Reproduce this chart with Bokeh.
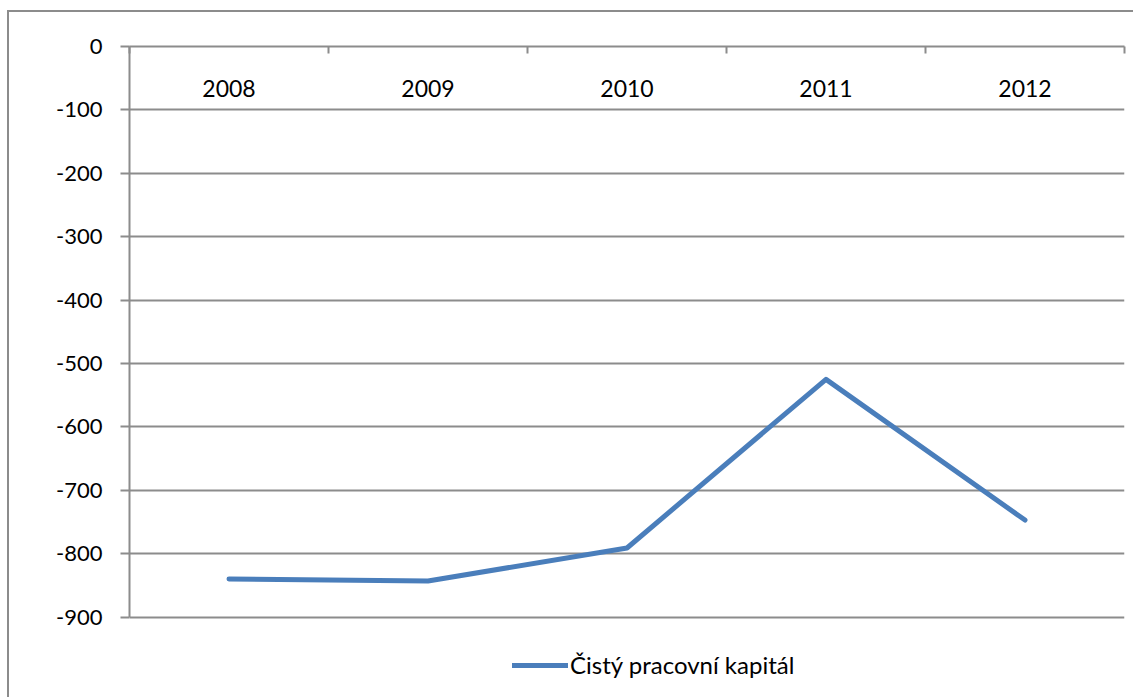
from bokeh.plotting import figure
from bokeh.models import (Range1d, FixedTicker, LinearAxis, Legend, LegendItem,
                          ColumnDataSource, CustomJSTickFormatter)
from bokeh.core.properties import value
from bokeh.embed import file_html
from bokeh.resources import INLINE
import numpy as np

# Net working capital by year
years = ["2008", "2009", "2010", "2011", "2012"]
capital = [-840, -843, -791, -525, -747]
y_ticks = [0, -100, -200, -300, -400, -500, -600, -700, -800, -900]

FONT = "Lato"
GRID = "#8c8c8c"
BLUE = "#4a7ebb"

# categories sit in the middle of unit-wide slots; ticks mark the slot edges
xpos = np.arange(len(years)) + 0.5
src = ColumnDataSource(dict(x=xpos, y=capital, year=years, y0=[0] * len(years)))

# the frame runs past -900 so the legend can sit underneath the axis
p = figure(width=1126, height=687, output_backend="svg", toolbar_location=None,
           x_range=Range1d(0, len(years)), y_range=Range1d(-1030, 0),
           x_axis_location=None, y_axis_location=None,
           min_border_left=120, min_border_right=11, min_border_top=34, min_border_bottom=0)
p.margin = (10, 0, 0, 7)
p.styles = {"border-left": "2px solid #8c8c8c", "border-top": "2px solid #8c8c8c"}
p.outline_line_color = None
p.background_fill_color = "white"
p.border_fill_color = "white"

# value axis on the left, plain hyphen for negatives
yax = LinearAxis(ticker=FixedTicker(ticks=y_ticks), bounds=(-900, 0),
                 formatter=CustomJSTickFormatter(code="return String(tick);"))
yax.axis_line_color = GRID
yax.axis_line_width = 2
yax.major_tick_line_color = GRID
yax.major_tick_line_width = 2
yax.major_tick_out = 9
yax.major_tick_in = 0
yax.minor_tick_line_color = None
yax.major_label_text_font = FONT
yax.major_label_text_font_size = "22px"
yax.major_label_text_color = "black"
yax.major_label_standoff = 18
p.add_layout(yax, "left")

# category axis running along zero, ticks pointing down
xax = LinearAxis(ticker=FixedTicker(ticks=list(range(len(years) + 1))))
xax.axis_line_color = GRID
xax.axis_line_width = 2
xax.major_tick_line_color = GRID
xax.major_tick_line_width = 2
xax.major_tick_in = 7
xax.major_tick_out = 0
xax.minor_tick_line_color = None
xax.major_label_text_font_size = "0px"
xax.major_label_text_alpha = 0
p.add_layout(xax, "above")

p.xgrid.grid_line_color = None
p.ygrid.ticker = FixedTicker(ticks=y_ticks)
p.ygrid.grid_line_color = GRID
p.ygrid.grid_line_width = 2

# year labels just under the zero line
p.text(x="x", y="y0", text="year", source=src, text_font=value(FONT),
       text_font_size="23px", text_color="black", text_align="center",
       text_baseline="middle", y_offset=42)

line = p.line(x="x", y="y", source=src, line_color=BLUE, line_width=5,
              line_cap="round", line_join="round")

legend = Legend(items=[LegendItem(label="Čistý pracovní kapitál", renderers=[line])],
                location=(383, 20), orientation="horizontal")
legend.glyph_width = 56
legend.glyph_height = 28
legend.label_standoff = 2
legend.label_text_font = FONT
legend.label_text_font_size = "24px"
legend.label_text_color = "black"
legend.padding = 0
legend.margin = 0
legend.spacing = 0
legend.border_line_color = None
legend.background_fill_alpha = 0
p.add_layout(legend, "center")

open("out.html", "w").write(file_html(p, INLINE))
